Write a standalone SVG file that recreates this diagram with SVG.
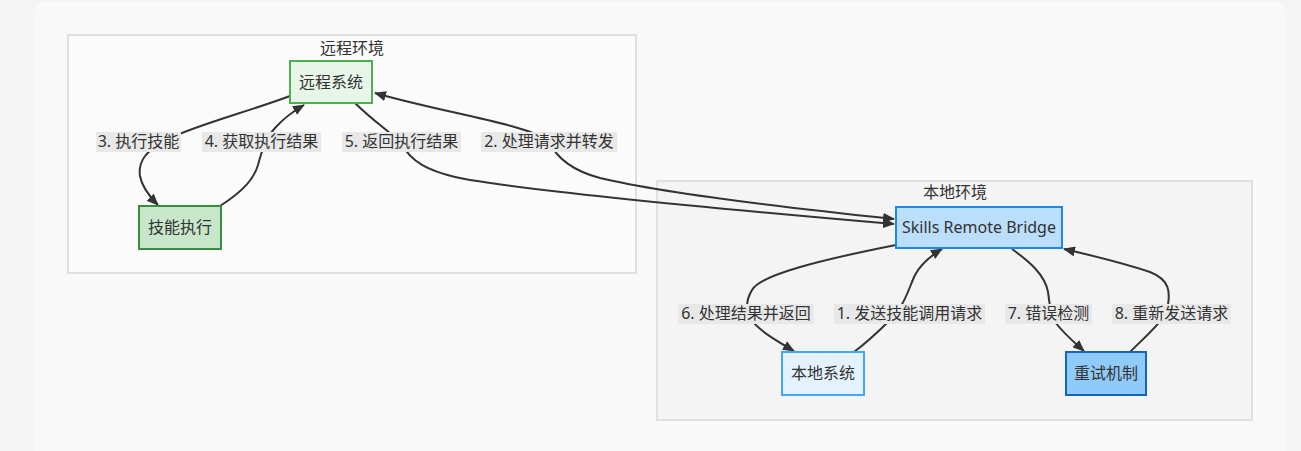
<svg xmlns="http://www.w3.org/2000/svg" width="1301" height="451" viewBox="0 0 1301 451">
<style>
text{font-family:"Noto Sans","Noto Sans CJK SC",sans-serif;font-size:16px;fill:#333;text-anchor:middle}
.cluster{stroke:#e0e0e0;stroke-width:2}
.edge{fill:none;stroke:#333;stroke-width:2}
.lbl{fill:#e8e8e8}
.node rect{stroke-width:2}
</style>
<defs>
<marker id="arr" viewBox="0 0 12 10" refX="11" refY="5" markerWidth="12" markerHeight="10" markerUnits="userSpaceOnUse" orient="auto-start-reverse">
<path d="M0,0 L12,5 L0,10 z" fill="#333"/>
</marker>
</defs>
<rect x="0" y="0" width="1301" height="451" fill="#f5f5f5"/>
<rect x="35" y="2" width="1250" height="470" rx="10" fill="#f9f9f9"/>
<g id="cluster-remote">
<rect class="cluster" x="68" y="35" width="568" height="238" fill="#fbfbfb"/>
<text x="352" y="54">远程环境</text>
</g>
<g id="cluster-local">
<rect class="cluster" x="657" y="181" width="595" height="239" fill="#f4f4f4"/>
<text x="955" y="198">本地环境</text>
</g>
<g id="edges">
<path class="edge" marker-end="url(#arr)" d="M290,96 C250,111 200,124 170,138 C145,150 138,162 140,176 C142,188 150,197 158,205"/>
<path class="edge" marker-end="url(#arr)" d="M220,206 C245,190 254,178 258,165 C262,150 266,138 275,128 C283,119 292,112 304,105"/>
<path class="edge" marker-end="url(#arr)" d="M355,103 C372,120 390,132 401,143 C410,160 425,172 470,180 C560,194 720,209 894,224"/>
<path class="edge" marker-start="url(#arr)" marker-end="url(#arr)" d="M894,219 C760,205 650,190 600,178 C570,170 555,155 549,141 C530,125 440,112 375,93"/>
<path class="edge" marker-end="url(#arr)" d="M896,245 C820,260 760,275 752,290 C746,300 746,310 750,318 C758,330 775,340 794,351"/>
<path class="edge" marker-end="url(#arr)" d="M854,352 C870,340 880,330 890,320 C905,305 908,290 915,275 C922,262 932,255 942,249"/>
<path class="edge" marker-end="url(#arr)" d="M1012,249 C1030,262 1045,275 1048,292 C1050,305 1050,315 1055,322 C1065,335 1075,343 1084,351"/>
<path class="edge" marker-end="url(#arr)" d="M1130,352 C1150,332 1165,320 1168,305 C1170,292 1170,280 1150,272 C1120,262 1090,255 1064,249"/>
<g id="edge-labels">
<rect class="lbl" x="96" y="132" width="85" height="20"/><text x="138.5" y="147">3. 执行技能</text>
<rect class="lbl" x="202" y="132" width="119" height="20"/><text x="261.5" y="147">4. 获取执行结果</text>
<rect class="lbl" x="342" y="132" width="119" height="20"/><text x="401.5" y="147">5. 返回执行结果</text>
<rect class="lbl" x="481" y="132" width="136" height="20"/><text x="549" y="147">2. 处理请求并转发</text>
<rect class="lbl" x="678" y="304" width="136" height="20"/><text x="746" y="319">6. 处理结果并返回</text>
<rect class="lbl" x="834" y="304" width="151" height="20"/><text x="909.5" y="319">1. 发送技能调用请求</text>
<rect class="lbl" x="1005" y="304" width="87" height="20"/><text x="1048.5" y="319">7. 错误检测</text>
<rect class="lbl" x="1112" y="304" width="119" height="20"/><text x="1171.5" y="319">8. 重新发送请求</text>
</g>
</g>
<g id="node-remote" class="node">
<rect x="290" y="61" width="82" height="42" fill="#e8f5e9" stroke="#4caf50"/>
<text x="331" y="88">远程系统</text>
</g>
<g id="node-exec" class="node">
<rect x="139" y="206" width="82" height="43" fill="#c8e6c9" stroke="#388e3c"/>
<text x="180" y="233">技能执行</text>
</g>
<g id="node-bridge" class="node">
<rect x="896" y="207" width="166" height="41" fill="#bbdefb" stroke="#1e88e5"/>
<text x="979" y="233">Skills Remote Bridge</text>
</g>
<g id="node-local" class="node">
<rect x="782" y="352" width="82" height="43" fill="#e3f2fd" stroke="#42a5f5"/>
<text x="823" y="379">本地系统</text>
</g>
<g id="node-retry" class="node">
<rect x="1066" y="352" width="80" height="43" fill="#90caf9" stroke="#1565c0"/>
<text x="1106" y="379">重试机制</text>
</g>
</svg>
